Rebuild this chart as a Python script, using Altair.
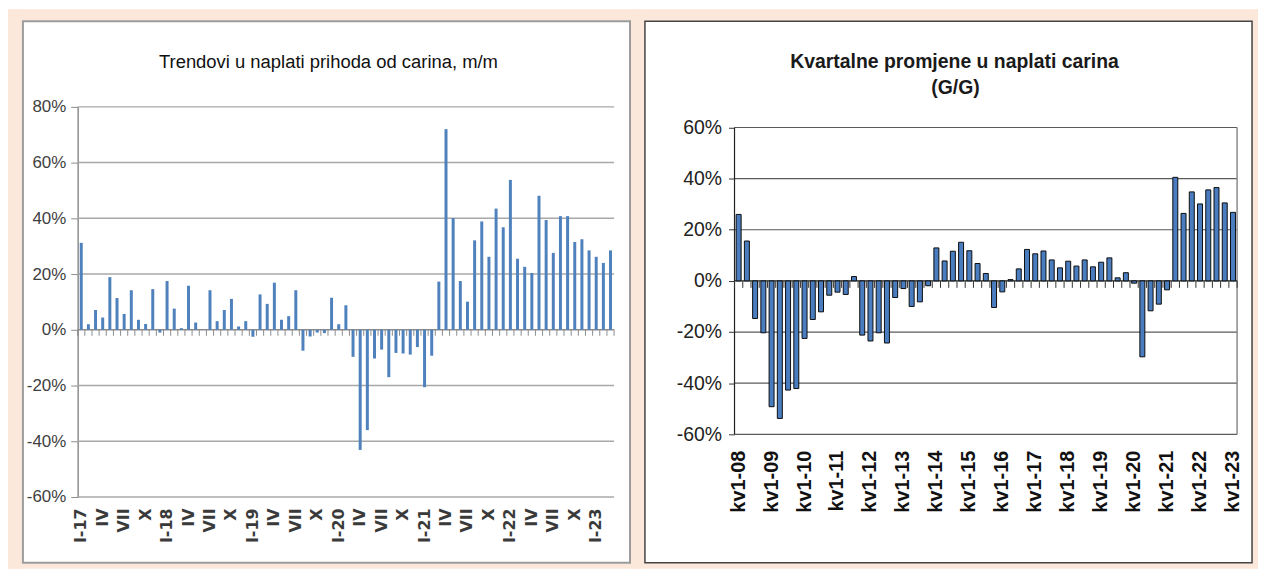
import altair as alt
import pandas as pd

# ---------------- data ----------------
roman = ["I", "II", "III", "IV", "V", "VI", "VII", "VIII", "IX", "X", "XI", "XII"]
years_m = ["17", "18", "19", "20", "21", "22", "23"]
months = [f"{r}-{y}" for y in years_m for r in roman][:75]

vals_2017 = [31.2, 2.0, 7.1, 4.4, 18.9, 11.4, 5.7, 14.2, 3.6, 2.1, 14.6, -1.0]
vals_2018 = [17.5, 7.6, 0.6, 15.8, 2.6, 0.1, 14.2, 3.1, 7.1, 11.1, 1.2, 3.1]
vals_2019 = [-2.5, 12.7, 9.3, 16.9, 3.6, 4.9, 14.2, -7.5, -2.4, -1.0, -1.2, 11.5]
vals_2020 = [2.0, 8.8, -9.7, -43.1, -36.0, -10.3, -7.1, -17.0, -8.3, -8.5, -8.9, -6.2]
vals_2021 = [-20.6, -9.3, 17.3, 72.0, 40.1, 17.5, 10.1, 32.1, 38.9, 26.2, 43.5, 36.8]
vals_2022 = [53.8, 25.5, 22.6, 20.4, 48.1, 39.4, 27.6, 40.8, 40.8, 31.5, 32.5, 28.5]
vals_2023 = [26.2, 24.0, 28.5]
m_vals = vals_2017 + vals_2018 + vals_2019 + vals_2020 + vals_2021 + vals_2022 + vals_2023

quarters = [f"kv{q}-{y:02d}" for y in range(8, 24) for q in range(1, 5)][:61]
q_vals = [
    26.0, 15.6, -14.7, -20.3,      # 2008
    -49.2, -53.8, -42.7, -42.1,    # 2009
    -22.5, -15.1, -12.1, -5.6,     # 2010
    -4.4, -5.3, 1.7, -21.2,        # 2011
    -23.5, -20.3, -24.3, -6.5,     # 2012
    -3.0, -10.0, -8.2, -1.9,       # 2013
    12.9, 7.8, 11.6, 15.1,         # 2014
    11.8, 6.8, 2.9, -10.4,         # 2015
    -4.3, 0.5, 4.7, 12.3,          # 2016
    10.6, 11.7, 8.2, 5.1,          # 2017
    7.7, 5.8, 8.2, 5.5,            # 2018
    7.3, 9.0, 1.2, 3.2,            # 2019
    -0.9, -29.7, -11.7, -9.1,      # 2020
    -3.5, 40.5, 26.4, 34.8,        # 2021
    30.1, 35.6, 36.5, 30.5,        # 2022
    26.8,                          # 2023
]

left_ticks = [80, 60, 40, 20, 0, -20, -40, -60]
right_ticks = [60, 40, 20, 0, -20, -40, -60]
left_title = ["Trendovi u naplati prihoda od carina, m/m"]
right_title_1 = ["Kvartalne promjene u naplati carina"]
right_title_2 = ["(G/G)"]

# ---------------- style ----------------
NARROW = "Liberation Sans Narrow, Liberation Sans, Arial, sans-serif"
ARIAL = "Liberation Sans, Arial, sans-serif"
PEACH = "#FCE8DB"

W1, H1 = 539, 392
W2, H2 = 505, 329
R_TOP = 68.06

one = pd.DataFrame({"a": [0]})
dfm = pd.DataFrame({"month": months, "val": m_vals})
dfq = pd.DataFrame({"q": quarters, "val": q_vals})


def strip(x1, x2, y1, y2):
    return alt.Chart(one).mark_rect(fill=PEACH, strokeWidth=0).encode(
        x=alt.value(x1), x2=alt.value(x2), y=alt.value(y1), y2=alt.value(y2)
    )


# peach frame around the two white boxes (pixel layout relative to left plot origin)
peach = [
    strip(-70, 1186, -98, -86),    # top
    strip(-70, 1186, 458, 464),    # bottom
    strip(-70, -55, -98, 464),     # left
    strip(555, 570, -98, 464),     # middle gap
    strip(1180, 1186, -98, 464),   # right
]

# ---------------- left panel ----------------
xL_axis = alt.Axis(
    values=months[::3],
    labelExpr="split(datum.value, '-')[0] == 'I' ? datum.value : split(datum.value, '-')[0]",
    labelAngle=-90, ticks=False, domain=False, grid=False, title=None,
    labelPadding=11, labelFont="DejaVu Sans", labelFontSize=16, labelFontWeight="bold",
    labelColor="#3a3a3a",
)
yL_axis = alt.Axis(
    values=left_ticks, labelExpr="datum.value + '%'", grid=False, title=None,
    domain=True, domainColor="#8c8c8c", domainWidth=1.5,
    ticks=True, tickSize=7, tickColor="#8c8c8c", labelPadding=5,
    labelFont=NARROW, labelFontSize=17, labelColor="#404040",
)
xL_scale = alt.Scale(paddingInner=0, paddingOuter=0)
yL_scale = alt.Scale(domain=[-60, 80], nice=False)

boxL = alt.Chart(one).mark_rect(fill=None, stroke="#9c9c9c", strokeWidth=2).encode(
    x=alt.value(-55), x2=alt.value(555), y=alt.value(-86), y2=alt.value(458)
)
gridL = alt.Chart(pd.DataFrame({"g": [v for v in left_ticks if v != 0]})).mark_rule(
    color="#a8a8a8", strokeWidth=1.5
).encode(y=alt.Y("g:Q", scale=yL_scale, axis=yL_axis), x=alt.value(0), x2=alt.value(W1))
zeroL = alt.Chart(one).mark_rule(color="#8c8c8c", strokeWidth=1.5).encode(
    y=alt.YDatum(0, scale=yL_scale, axis=yL_axis), x=alt.value(0), x2=alt.value(W1)
)
ticksL = alt.Chart(dfm).mark_rule(color="#8c8c8c", y2Offset=6).encode(
    x=alt.X("month:N", sort=months, scale=xL_scale, bandPosition=0, axis=xL_axis),
    y=alt.YDatum(0, scale=yL_scale, axis=yL_axis), y2=alt.datum(0),
)
endTickL = alt.Chart(dfm.tail(1)).mark_rule(color="#8c8c8c", y2Offset=6).encode(
    x=alt.X("month:N", sort=months, scale=xL_scale, bandPosition=1, axis=xL_axis),
    y=alt.YDatum(0, scale=yL_scale, axis=yL_axis), y2=alt.datum(0),
)
barsL = alt.Chart(dfm).mark_bar(size=3, color="#4f81bd").encode(
    x=alt.X("month:N", sort=months, scale=xL_scale, axis=xL_axis),
    y=alt.Y("val:Q", scale=yL_scale, axis=yL_axis),
)
titleL = alt.Chart(pd.DataFrame({"t": left_title})).mark_text(
    font=NARROW, fontSize=18.5, color="#111111", align="center", baseline="alphabetic"
).encode(text="t:N", x=alt.value(252), y=alt.value(-39))

left = alt.layer(*peach, boxL, gridL, zeroL, ticksL, endTickL, barsL, titleL).properties(
    width=W1, height=H1
)

# ---------------- right panel ----------------
xR_axis = alt.Axis(
    values=quarters[::4], labelAngle=-90, ticks=False, domain=False, grid=False, title=None,
    labelPadding=16, labelFont=ARIAL, labelFontSize=20, labelFontWeight="bold",
    labelColor="#111111",
)
yR_axis = alt.Axis(
    values=right_ticks, labelExpr="datum.value + '%'", grid=False, title=None,
    domain=False, ticks=True, tickSize=6, tickColor="#333333", labelPadding=7,
    labelFont=ARIAL, labelFontSize=19.5, labelColor="#222222",
)
xR_scale = alt.Scale(paddingInner=0, paddingOuter=0)
yR_scale = alt.Scale(domain=[-60, R_TOP], nice=False)

boxR = alt.Chart(one).mark_rect(fill=None, stroke="#444444", strokeWidth=1.5).encode(
    x=alt.value(-90), x2=alt.value(520), y=alt.value(-86), y2=alt.value(458)
)
gridR = alt.Chart(pd.DataFrame({"g": [v for v in right_ticks if v != 0]})).mark_rule(
    color="#5a5a5a", strokeWidth=1.2
).encode(y=alt.Y("g:Q", scale=yR_scale, axis=yR_axis), x=alt.value(0), x2=alt.value(W2))
frameR = alt.Chart(one).mark_rule(color="#8a8a8a", strokeWidth=1.5).encode(
    x=alt.value(W2), y=alt.YDatum(60, scale=yR_scale, axis=yR_axis), y2=alt.datum(-60)
)
axisR = alt.Chart(one).mark_rule(color="#222222", strokeWidth=1.2).encode(
    x=alt.value(0), y=alt.YDatum(60, scale=yR_scale, axis=yR_axis), y2=alt.datum(-60)
)
zeroR = alt.Chart(one).mark_rule(color="#222222", strokeWidth=1.2).encode(
    y=alt.YDatum(0, scale=yR_scale, axis=yR_axis), x=alt.value(0), x2=alt.value(W2)
)
ticksR = alt.Chart(dfq).mark_rule(color="#333333", y2Offset=7).encode(
    x=alt.X("q:N", sort=quarters, scale=xR_scale, bandPosition=0, axis=xR_axis),
    y=alt.YDatum(0, scale=yR_scale, axis=yR_axis), y2=alt.datum(0),
)
endTickR = alt.Chart(dfq.tail(1)).mark_rule(color="#333333", y2Offset=7).encode(
    x=alt.X("q:N", sort=quarters, scale=xR_scale, bandPosition=1, axis=xR_axis),
    y=alt.YDatum(0, scale=yR_scale, axis=yR_axis), y2=alt.datum(0),
)
barsR = alt.Chart(dfq).mark_bar(size=5, fill="#4a7cc0", stroke="#0d0d0d", strokeWidth=1).encode(
    x=alt.X("q:N", sort=quarters, scale=xR_scale, axis=xR_axis),
    y=alt.Y("val:Q", scale=yR_scale, axis=yR_axis),
)
titleR1 = alt.Chart(pd.DataFrame({"t": right_title_1})).mark_text(
    font=ARIAL, fontSize=19.5, fontWeight="bold", color="#1a1a1a", align="center", baseline="alphabetic"
).encode(text="t:N", x=alt.value(221), y=alt.value(-39))
titleR2 = alt.Chart(pd.DataFrame({"t": right_title_2})).mark_text(
    font=ARIAL, fontSize=19.5, fontWeight="bold", color="#1a1a1a", align="center", baseline="alphabetic"
).encode(text="t:N", x=alt.value(222), y=alt.value(-13))

right = alt.layer(boxR, gridR, frameR, axisR, zeroR, ticksR, endTickR, barsR, titleR1, titleR2).properties(
    width=W2, height=H2
)

chart = (
    alt.hconcat(left, right, spacing=121, bounds="flush")
    .properties(background="white", padding=0)
    .configure_view(stroke=None)
)

chart.save("out.html", embed_options={"renderer": "svg", "actions": False})
